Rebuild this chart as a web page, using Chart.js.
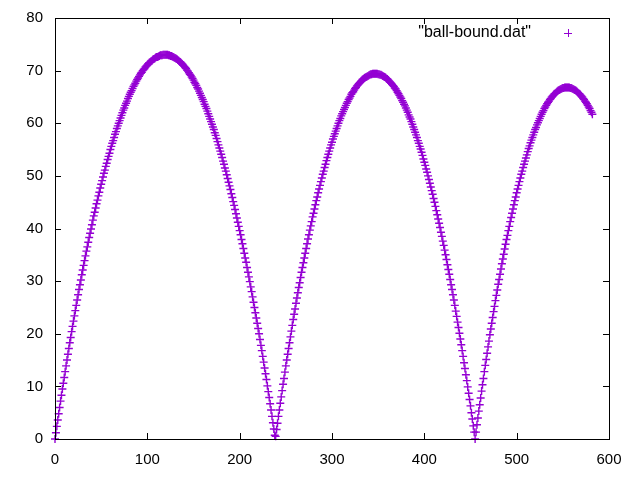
<!DOCTYPE html>
<html>
<head>
<meta charset="utf-8">
<script src="https://cdn.jsdelivr.net/npm/chart.js@4/dist/chart.umd.min.js"></script>
<style>
  html, body { margin: 0; padding: 0; background: #ffffff; }
  canvas { display: block; }
</style>
</head>
<body>
<canvas id="plot" width="640" height="480"></canvas>
<script>
'use strict';

// Heights, one sample per unit of x.
// Each bounce starts at the x given in bounceStartX.
const bounceStartX = [0, 239, 456];

const firstBounceY = [
  0, 1.2, 2.4, 3.6, 4.8, 6.0, 7.2, 8.3, 9.5, 10.6,
  11.7, 12.8, 13.9, 15.0, 16.1, 17.2, 18.3, 19.3, 20.4, 21.4,
  22.4, 23.4, 24.4, 25.4, 26.4, 27.4, 28.4, 29.3, 30.2, 31.2,
  32.1, 33.0, 33.9, 34.8, 35.7, 36.5, 37.4, 38.3, 39.1, 39.9,
  40.7, 41.6, 42.4, 43.1, 43.9, 44.7, 45.4, 46.2, 46.9, 47.7,
  48.4, 49.1, 49.8, 50.5, 51.1, 51.8, 52.4, 53.1, 53.7, 54.3,
  55.0, 55.6, 56.2, 56.7, 57.3, 57.9, 58.4, 59.0, 59.5, 60.0,
  60.5, 61.0, 61.5, 62.0, 62.5, 62.9, 63.4, 63.8, 64.2, 64.7,
  65.1, 65.5, 65.9, 66.2, 66.6, 67.0, 67.3, 67.6, 68.0, 68.3,
  68.6, 68.9, 69.2, 69.5, 69.7, 70.0, 70.2, 70.4, 70.7, 70.9,
  71.1, 71.3, 71.5, 71.6, 71.8, 71.9, 72.1, 72.2, 72.3, 72.5,
  72.6, 72.6, 72.7, 72.8, 72.9, 72.9, 72.9, 73.0, 73.0, 73.0,
  73.0, 73.0, 73.0, 72.9, 72.9, 72.8, 72.8, 72.7, 72.6, 72.5,
  72.4, 72.3, 72.2, 72.0, 71.9, 71.7, 71.6, 71.4, 71.2, 71.0,
  70.8, 70.6, 70.4, 70.1, 69.9, 69.6, 69.3, 69.1, 68.8, 68.5,
  68.2, 67.8, 67.5, 67.2, 66.8, 66.5, 66.1, 65.7, 65.3, 64.9,
  64.5, 64.1, 63.6, 63.2, 62.8, 62.3, 61.8, 61.3, 60.8, 60.3,
  59.8, 59.3, 58.8, 58.2, 57.7, 57.1, 56.5, 55.9, 55.3, 54.7,
  54.1, 53.5, 52.8, 52.2, 51.5, 50.9, 50.2, 49.5, 48.8, 48.1,
  47.4, 46.6, 45.9, 45.1, 44.4, 43.6, 42.8, 42.0, 41.2, 40.4,
  39.6, 38.8, 37.9, 37.1, 36.2, 35.3, 34.4, 33.6, 32.6, 31.7,
  30.8, 29.9, 28.9, 28.0, 27.0, 26.0, 25.0, 24.0, 23.0, 22.0,
  21.0, 20.0, 18.9, 17.8, 16.8, 15.7, 14.6, 13.5, 12.4, 11.3,
  10.1, 9.0, 7.9, 6.7, 5.5, 4.3, 3.1, 1.9, 0.7
];

const secondBounceY = [
  0.5, 1.8, 3.0, 4.3, 5.5, 6.8, 8.0, 9.2, 10.4, 11.5,
  12.7, 13.9, 15.0, 16.1, 17.2, 18.3, 19.4, 20.5, 21.6, 22.7,
  23.7, 24.7, 25.8, 26.8, 27.8, 28.8, 29.7, 30.7, 31.7, 32.6,
  33.5, 34.4, 35.3, 36.2, 37.1, 38.0, 38.8, 39.7, 40.5, 41.3,
  42.2, 42.9, 43.7, 44.5, 45.3, 46.0, 46.8, 47.5, 48.2, 48.9,
  49.6, 50.3, 50.9, 51.6, 52.2, 52.9, 53.5, 54.1, 54.7, 55.3,
  55.9, 56.4, 57.0, 57.5, 58.0, 58.5, 59.0, 59.5, 60.0, 60.5,
  60.9, 61.4, 61.8, 62.2, 62.6, 63.0, 63.4, 63.8, 64.1, 64.5,
  64.8, 65.1, 65.5, 65.8, 66.0, 66.3, 66.6, 66.8, 67.1, 67.3,
  67.5, 67.7, 67.9, 68.1, 68.3, 68.4, 68.6, 68.7, 68.8, 68.9,
  69.0, 69.1, 69.2, 69.3, 69.3, 69.4, 69.4, 69.4, 69.4, 69.4,
  69.4, 69.3, 69.3, 69.2, 69.2, 69.1, 69.0, 68.9, 68.8, 68.7,
  68.5, 68.4, 68.2, 68.0, 67.8, 67.6, 67.4, 67.2, 67.0, 66.7,
  66.5, 66.2, 65.9, 65.6, 65.3, 65.0, 64.7, 64.3, 64.0, 63.6,
  63.3, 62.9, 62.5, 62.1, 61.6, 61.2, 60.8, 60.3, 59.8, 59.3,
  58.8, 58.3, 57.8, 57.3, 56.7, 56.2, 55.6, 55.1, 54.5, 53.9,
  53.2, 52.6, 52.0, 51.3, 50.7, 50.0, 49.3, 48.6, 47.9, 47.2,
  46.5, 45.7, 45.0, 44.2, 43.4, 42.6, 41.8, 41.0, 40.2, 39.3,
  38.5, 37.6, 36.8, 35.9, 35.0, 34.1, 33.1, 32.2, 31.3, 30.3,
  29.3, 28.4, 27.4, 26.4, 25.4, 24.3, 23.3, 22.2, 21.2, 20.1,
  19.0, 17.9, 16.8, 15.7, 14.5, 13.4, 12.2, 11.1, 9.9, 8.7,
  7.5, 6.3, 5.0, 3.8, 2.5, 1.3, 0.0
];

const thirdBounceY = [
  1.3, 2.7, 4.0, 5.3, 6.5, 7.8, 9.1, 10.3, 11.5, 12.8,
  14.0, 15.1, 16.3, 17.5, 18.6, 19.8, 20.9, 22.0, 23.1, 24.2,
  25.2, 26.3, 27.3, 28.3, 29.4, 30.3, 31.3, 32.3, 33.3, 34.2,
  35.1, 36.1, 37.0, 37.9, 38.7, 39.6, 40.4, 41.3, 42.1, 42.9,
  43.7, 44.5, 45.3, 46.0, 46.8, 47.5, 48.2, 48.9, 49.6, 50.3,
  50.9, 51.6, 52.2, 52.8, 53.4, 54.0, 54.6, 55.2, 55.7, 56.3,
  56.8, 57.3, 57.8, 58.3, 58.8, 59.2, 59.7, 60.1, 60.5, 60.9,
  61.3, 61.7, 62.1, 62.4, 62.8, 63.1, 63.4, 63.7, 64.0, 64.2,
  64.5, 64.7, 65.0, 65.2, 65.4, 65.6, 65.7, 65.9, 66.1, 66.2,
  66.3, 66.4, 66.5, 66.6, 66.7, 66.7, 66.8, 66.8, 66.8, 66.8,
  66.8, 66.8, 66.7, 66.7, 66.6, 66.5, 66.4, 66.3, 66.2, 66.1,
  65.9, 65.7, 65.6, 65.4, 65.2, 65.0, 64.7, 64.5, 64.2, 64.0,
  63.7, 63.4, 63.1, 62.8, 62.4, 62.1, 61.7
];

const xTicks = [0, 100, 200, 300, 400, 500, 600];
const yTicks = [0, 10, 20, 30, 40, 50, 60, 70, 80];
const seriesName = '"ball-bound.dat"';

const pointColor = '#9400d3';
const fontName = "'Liberation Sans', Arial, sans-serif";

// Turn the three bounces into {x, y} points.
function buildPoints() {
  const points = [];
  [firstBounceY, secondBounceY, thirdBounceY].forEach(function (ys, b) {
    ys.forEach(function (y, i) {
      points.push({x: bounceStartX[b] + i, y: y});
    });
  });
  return points;
}

// gnuplot look: full frame, ticks pointing inwards on all four sides,
// and the key in the top right corner with the text before the sample.
const gnuplotFrame = {
  id: 'gnuplotFrame',
  afterDatasetsDraw(chart) {
    const ctx = chart.ctx;
    const area = chart.chartArea;
    const xs = chart.scales.x;
    const ys = chart.scales.y;
    const tick = 6;

    ctx.save();
    ctx.strokeStyle = '#000000';
    ctx.lineWidth = 1;
    ctx.beginPath();
    xTicks.forEach(function (v) {
      const px = Math.round(xs.getPixelForValue(v)) + 0.5;
      ctx.moveTo(px, area.bottom);
      ctx.lineTo(px, area.bottom - tick);
      ctx.moveTo(px, area.top);
      ctx.lineTo(px, area.top + tick);
    });
    yTicks.forEach(function (v) {
      const py = Math.round(ys.getPixelForValue(v)) + 0.5;
      ctx.moveTo(area.left, py);
      ctx.lineTo(area.left + tick, py);
      ctx.moveTo(area.right, py);
      ctx.lineTo(area.right - tick, py);
    });
    ctx.stroke();
    ctx.strokeRect(Math.round(area.left) + 0.5, Math.round(area.top) + 0.5,
      Math.round(area.right - area.left), Math.round(area.bottom - area.top));

    // key
    ctx.fillStyle = '#000000';
    ctx.font = '16px ' + fontName;
    ctx.textAlign = 'right';
    ctx.textBaseline = 'middle';
    ctx.fillText(seriesName, 531, 33);
    ctx.strokeStyle = pointColor;
    ctx.beginPath();
    ctx.moveTo(564, 33.5);
    ctx.lineTo(572, 33.5);
    ctx.moveTo(568.5, 29);
    ctx.lineTo(568.5, 37);
    ctx.stroke();
    ctx.restore();
  }
};

function initializeChart() {
  const el = document.getElementById('plot');

  new Chart(el, {
    type: 'scatter',
    data: {
      datasets: [{
        label: seriesName,
        data: buildPoints(),
        pointStyle: 'cross',
        pointRadius: 4,
        pointHoverRadius: 4,
        borderColor: pointColor,
        backgroundColor: pointColor,
        borderWidth: 1.4,
        showLine: false,
        clip: 10
      }]
    },
    options: {
      responsive: false,
      animation: false,
      events: [],
      layout: {padding: {left: 0, top: 18, right: 31, bottom: 0}},
      plugins: {
        legend: {display: false},
        tooltip: {enabled: false}
      },
      scales: {
        x: {
          type: 'linear',
          min: 0,
          max: 600,
          // fixed axis size, and no extra room for the end labels
          afterFit(scale) {
            scale.height = 41;
            scale.paddingLeft = 0;
            scale.paddingRight = 0;
          },
          afterBuildTicks(scale) { scale.ticks = xTicks.map(v => ({value: v})); },
          grid: {display: false, drawTicks: false},
          border: {display: false},
          ticks: {
            color: '#000000',
            padding: 12,
            maxRotation: 0,
            font: {family: fontName, size: 15}
          }
        },
        y: {
          type: 'linear',
          min: 0,
          max: 80,
          afterFit(scale) {
            scale.width = 55;
            scale.paddingTop = 0;
            scale.paddingBottom = 0;
          },
          afterBuildTicks(scale) { scale.ticks = yTicks.map(v => ({value: v})); },
          grid: {display: false, drawTicks: false},
          border: {display: false},
          ticks: {
            color: '#000000',
            padding: 12,
            font: {family: fontName, size: 15}
          }
        }
      }
    },
    plugins: [gnuplotFrame]
  });
}

initializeChart();
</script>
</body>
</html>
